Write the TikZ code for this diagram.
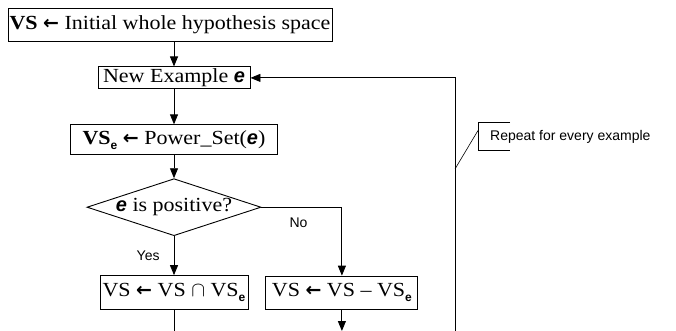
\documentclass[tikz,border=0pt]{standalone}
\usepackage{fontspec}
\setmainfont{Liberation Serif}[FakeStretch=1.1]
\newfontfamily\sansfont{Liberation Sans}
\newfontfamily\arrowfont{DejaVu Sans}
\usetikzlibrary{arrows.meta,positioning,shapes.geometric}
\newcommand{\ex}{{\sansfont\bfseries\itshape e}}
\newcommand{\larr}{{\arrowfont\bfseries\fontsize{19}{19}\selectfont ←}}
\newcommand{\sube}{\raisebox{-5pt}{\sansfont\bfseries\fontsize{12}{12}\selectfont e}}
\tikzset{
  block/.style ={rectangle, draw=black, line width=0.9pt, inner sep=1pt,
                 font=\fontsize{20}{22}\selectfont},
  cond/.style  ={diamond, draw=black, line width=0.9pt, aspect=3, inner sep=0pt,
                 minimum width=174pt, minimum height=57pt,
                 font=\fontsize{20}{22}\selectfont},
  flow/.style  ={-{Triangle[length=10pt,width=8pt]}, line width=0.9pt},
  link/.style  ={line width=0.9pt},
  lbl/.style   ={font=\sansfont\fontsize{14}{16}\selectfont, inner sep=2pt},
}
\begin{document}
\begin{tikzpicture}[x=1pt,y=1pt]
    \useasboundingbox (0,0) rectangle (676,-331);
    % nodes
    \node[block, minimum width=324pt, minimum height=33pt] (init) at (170,-24.5)
       {{\bfseries VS} \larr{} Initial whole hypothesis space};
    \node[block, minimum width=152pt, minimum height=22pt, below=25pt of init, xshift=4pt] (newex)
       {New Example \ex};
    \node[block, minimum width=207pt, minimum height=30pt, below=35pt of newex] (power)
       {{\bfseries VS}\sube{} \larr{} Power\_Set(\ex)};
    \node[cond, below=23pt of power] (pos) {\ex{} is positive?};
    \node[block, minimum width=148pt, minimum height=34pt, below=39pt of pos] (inter)
       {VS \larr{} VS $\cap$ VS\sube};
    \node[block, minimum width=152pt, minimum height=33pt, right=17pt of inter] (diff)
       {VS \larr{} VS -- VS\sube};
    \node[lbl, anchor=west, minimum height=27pt, inner xsep=12pt] (note) at (478,-136.5)
       {Repeat for every example};

    % cut at the lower edge
    \coordinate (cut) at (0,-331);
    \coordinate (loop) at (455,-331);
    \coordinate (tap) at (455,-169);

    % flows
    \draw[flow] (init.south -| newex) -- (newex);
    \draw[flow] (newex) -- (power);
    \draw[flow] (power) -- (pos);
    \draw[flow] (pos) -- (inter) node[midway, left=12pt, lbl] {Yes};
    \draw[flow] (pos) -| (diff) node[pos=.23, below=8pt, lbl] {No};
    \draw[link] (inter) -- (inter |- cut);
    \draw[flow] (diff) -- (diff |- cut);
    \draw[flow] (loop) |- (newex);

    % callout
    \draw[link] ([xshift=32pt]note.north west) -- (note.north west)
       -- (note.south west) -- ([xshift=32pt]note.south west);
    \draw[line width=0.6pt] ([yshift=6pt]note.west) -- (tap);
\end{tikzpicture}
\end{document}
